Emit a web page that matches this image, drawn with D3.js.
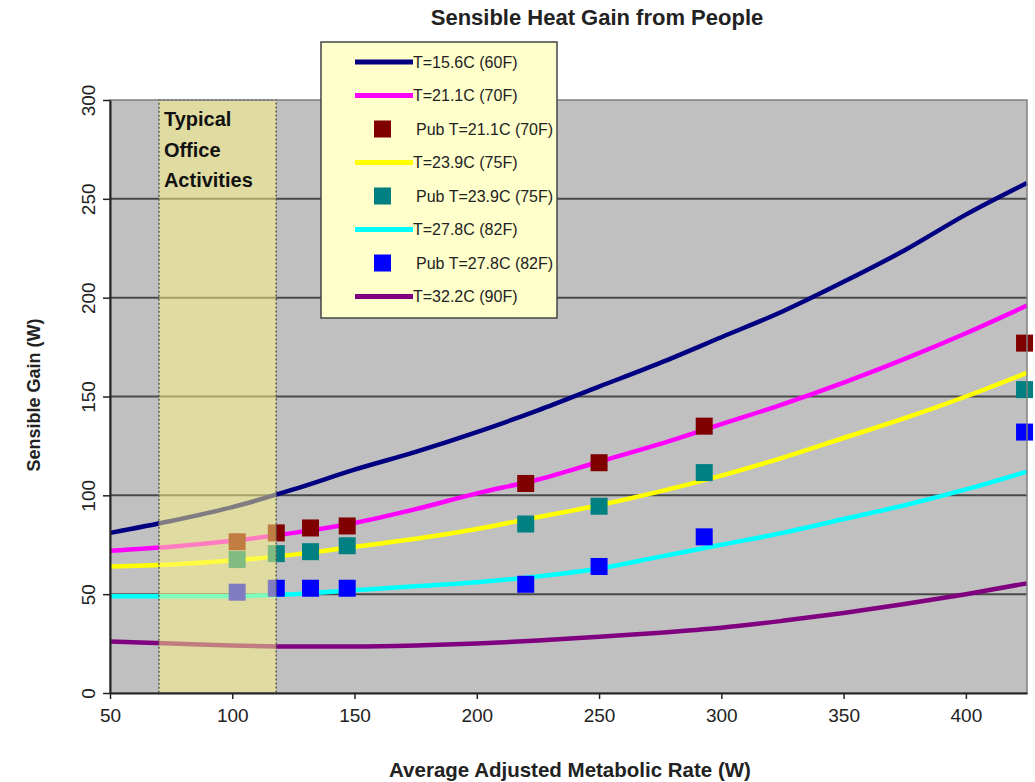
<!DOCTYPE html>
<html>
<head>
<meta charset="utf-8">
<script src="https://cdn.jsdelivr.net/npm/d3@7"></script>
<style>
  body { margin: 0; background: #fff; }
  text { font-family: "Liberation Sans", Arial, sans-serif; }
</style>
</head>
<body>
<svg id="chart" width="1035" height="782"></svg>
<script>
// podatki ---------------------------------------------------------------
const rate = [50, 75, 100, 125, 150, 175, 200, 225, 250, 275, 300, 325, 350, 375, 400, 425];
const t156 = [81, 87, 94, 103, 113, 122, 132, 143, 155, 167, 180, 193, 208, 224, 242, 258];
const t211 = [72, 74, 77, 81, 86, 93, 101, 108, 117, 126, 136, 146, 157, 169, 182, 196];
const t239 = [64, 65, 67, 70, 74, 78, 83, 89, 95, 102, 110, 119, 129, 139, 150, 162];
const t278 = [49, 49, 49, 50, 52, 54, 56, 59, 63, 69, 75, 81, 88, 95, 103, 112];
const t322 = [26, 25, 24, 23.5, 23.5, 24, 25, 26.5, 28.5, 30.5, 33, 36.5, 40.5, 45, 50, 55.5];

const pubRate = [102, 118, 132, 147, 220, 250, 293, 424];
const pub211 = [76.5, 81, 83.5, 84.5, 106, 116.5, 135, 177];
const pub239 = [67.5, 70.5, 71.5, 74.5, 85.5, 94.5, 111.5, 153.5];
const pub278 = [51, 53, 53, 53, 55, 64, 79, 132];

const officeRange = [70, 118];
const xTicks = [50, 100, 150, 200, 250, 300, 350, 400];
const yTicks = [0, 50, 100, 150, 200, 250, 300];

const series = [
  { name: "T=15.6C (60F)", type: "line", values: t156, color: "#000080" },
  { name: "T=21.1C (70F)", type: "line", values: t211, color: "#ff00ff" },
  { name: "Pub T=21.1C (70F)", type: "pts", values: pub211, color: "#800000" },
  { name: "T=23.9C (75F)", type: "line", values: t239, color: "#ffff00" },
  { name: "Pub T=23.9C (75F)", type: "pts", values: pub239, color: "#008080" },
  { name: "T=27.8C (82F)", type: "line", values: t278, color: "#00ffff" },
  { name: "Pub T=27.8C (82F)", type: "pts", values: pub278, color: "#0000ff" },
  { name: "T=32.2C (90F)", type: "line", values: t322, color: "#800080" }
];

// glaven prikaz ---------------------------------------------------------
const svg = d3.select("#chart");
const plot = { left: 110, right: 1027, top: 100, bottom: 693 };

const x = d3.scaleLinear().domain([50, 425]).range([plot.left, plot.right]);
const y = d3.scaleLinear().domain([0, 300]).range([plot.bottom, plot.top]);

// ozadje
svg.append("rect")
  .attr("x", plot.left).attr("y", plot.top)
  .attr("width", plot.right - plot.left).attr("height", plot.bottom - plot.top)
  .attr("fill", "#c0c0c0");

// mreza
svg.append("g")
  .selectAll("line")
  .data(yTicks.filter(d => d > 0 && d < 300))
  .join("line")
    .attr("x1", plot.left).attr("x2", plot.right)
    .attr("y1", d => y(d)).attr("y2", d => y(d))
    .attr("stroke", "#4a4a4a")
    .attr("stroke-width", 2);

// krivulje
const line = d3.line()
  .x((d, i) => x(rate[i]))
  .y(d => y(d))
  .curve(d3.curveMonotoneX);

const lines = series.filter(s => s.type == "line");
const pts = series.filter(s => s.type == "pts");

svg.append("g")
  .selectAll("path")
  .data(lines)
  .join("path")
    .attr("d", d => line(d.values))
    .attr("fill", "none")
    .attr("stroke", d => d.color)
    .attr("stroke-width", 4.5);

// tocke
pts.forEach(s => {
  svg.append("g")
    .selectAll("rect")
    .data(s.values)
    .join("rect")
      .attr("x", (d, i) => x(pubRate[i]) - 8.5)
      .attr("y", d => y(d) - 8.5)
      .attr("width", 17)
      .attr("height", 17)
      .attr("fill", s.color);
});

// obmocje pisarniskih aktivnosti
svg.append("rect")
  .attr("x", x(officeRange[0])).attr("y", plot.top)
  .attr("width", x(officeRange[1]) - x(officeRange[0]))
  .attr("height", plot.bottom - plot.top)
  .attr("fill", "rgba(255,248,130,0.5)")
  .attr("stroke", "#555")
  .attr("stroke-width", 1.5)
  .attr("stroke-dasharray", "2,2");

svg.append("text")
  .attr("x", x(officeRange[0]) + 5)
  .attr("y", plot.top + 26)
  .attr("font-size", 20)
  .attr("font-weight", "bold")
  .attr("font-family", "DejaVu Sans, sans-serif")
  .attr("fill", "#111")
  .selectAll("tspan")
  .data(["Typical", "Office", "Activities"])
  .join("tspan")
    .attr("x", x(officeRange[0]) + 5)
    .attr("dy", (d, i) => i == 0 ? 0 : 30.5)
    .text(d => d);

// okvir
svg.append("rect")
  .attr("x", plot.left).attr("y", plot.top)
  .attr("width", plot.right - plot.left).attr("height", plot.bottom - plot.top)
  .attr("fill", "none")
  .attr("stroke", "#808080")
  .attr("stroke-width", 1.5);

// osi
const xAxis = svg.append("g")
  .attr("transform", `translate(0,${plot.bottom})`)
  .call(d3.axisBottom(x).tickValues(xTicks).tickSize(6).tickSizeOuter(0).tickPadding(10));
xAxis.select(".domain").attr("stroke", "#222").attr("stroke-width", 2);
xAxis.selectAll(".tick line").attr("stroke", "#222").attr("stroke-width", 1.5);
xAxis.selectAll(".tick text").attr("font-size", 19).attr("fill", "#222")
  .attr("font-family", "Liberation Sans, Arial, sans-serif");

const yAxis = svg.append("g")
  .attr("transform", `translate(${plot.left},0)`)
  .call(d3.axisLeft(y).tickValues(yTicks).tickSize(7).tickSizeOuter(0));
yAxis.select(".domain").attr("stroke", "#222").attr("stroke-width", 2);
yAxis.selectAll(".tick line").attr("stroke", "#222").attr("stroke-width", 1.5);
yAxis.selectAll(".tick text")
  .attr("font-size", 19).attr("fill", "#222")
  .attr("font-family", "Liberation Sans, Arial, sans-serif")
  .attr("text-anchor", "middle")
  .attr("x", 0).attr("dy", 0)
  .attr("transform", "translate(-22,0) rotate(-90)")
  .attr("y", 0)
  .attr("dominant-baseline", "central");

// naslovi
svg.append("text")
  .attr("x", 597).attr("y", 25)
  .attr("text-anchor", "middle")
  .attr("font-size", 22).attr("font-weight", "bold").attr("fill", "#222")
  .text("Sensible Heat Gain from People");

svg.append("text")
  .attr("x", 570).attr("y", 777)
  .attr("text-anchor", "middle")
  .attr("font-size", 20.5).attr("font-weight", "bold").attr("fill", "#222")
  .text("Average Adjusted Metabolic Rate (W)");

svg.append("text")
  .attr("transform", "translate(40,395) rotate(-90)")
  .attr("text-anchor", "middle")
  .attr("font-size", 18).attr("font-weight", "bold").attr("fill", "#222")
  .text("Sensible Gain (W)");

// legenda
const legend = svg.append("g").attr("transform", "translate(321,42)");
legend.append("rect")
  .attr("width", 236).attr("height", 276)
  .attr("fill", "#ffffcc")
  .attr("stroke", "#444")
  .attr("stroke-width", 1.5);

const item = legend.selectAll("g.item")
  .data(series)
  .join("g")
    .attr("class", "item")
    .attr("transform", (d, i) => `translate(0,${20 + i * 33.5})`);

item.filter(d => d.type == "line")
  .append("line")
    .attr("x1", 34).attr("x2", 92)
    .attr("stroke", d => d.color)
    .attr("stroke-width", 5);

item.filter(d => d.type == "pts")
  .append("rect")
    .attr("x", 53).attr("y", -8.5)
    .attr("width", 17).attr("height", 17)
    .attr("fill", d => d.color);

item.append("text")
  .attr("x", d => d.type == "line" ? 92 : 95)
  .attr("dy", "0.36em")
  .attr("font-size", 16)
  .attr("fill", "#222")
  .text(d => d.name);
</script>
</body>
</html>
